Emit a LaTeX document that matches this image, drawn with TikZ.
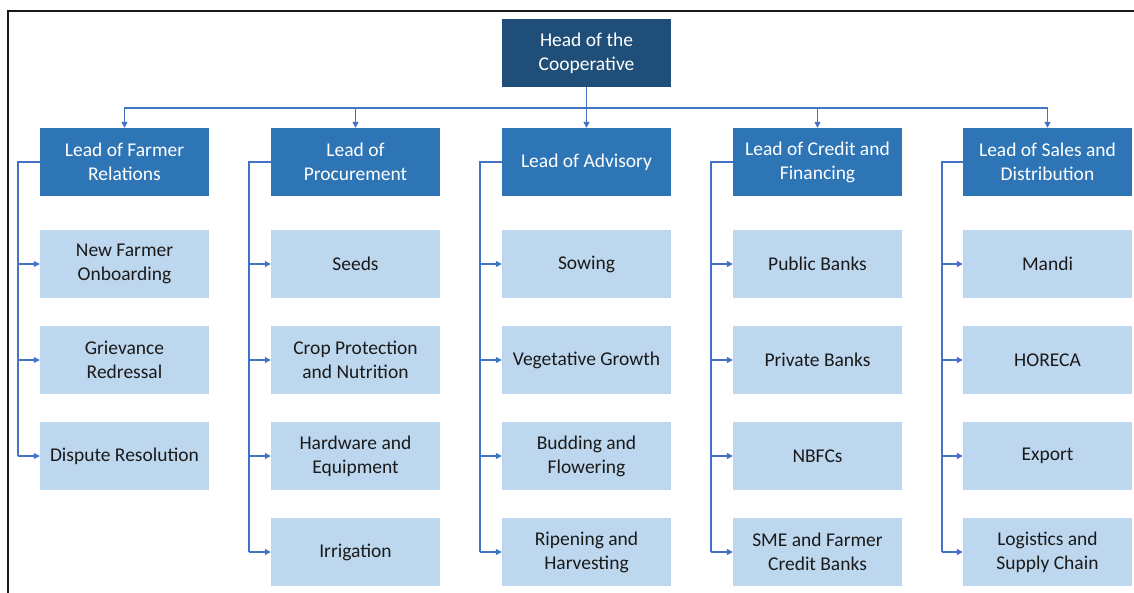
\documentclass[tikz,border=0pt]{standalone}
\usepackage{fontspec}
\setmainfont{Carlito}
\usetikzlibrary{arrows.meta}
\definecolor{headc}{HTML}{1F4E79}
\definecolor{leadc}{HTML}{2E75B6}
\definecolor{childc}{HTML}{BDD7EE}
\definecolor{linec}{HTML}{4472C4}
\definecolor{txtc}{HTML}{1A1A1A}
\begin{document}
\begin{tikzpicture}[x=1pt,y=-1pt,
  box/.style={minimum width=169pt,minimum height=68pt,inner sep=0pt,align=center,
    font=\fontsize{19.5}{24}\selectfont},
  headbox/.style={box,fill=headc,text=white},
  leadbox/.style={box,fill=leadc,text=white},
  childbox/.style={box,fill=childc,text=txtc},
  conn/.style={draw=linec,line width=1.2pt},
  arr/.style={conn,-{Triangle[length=6pt,width=6pt]}}]
\useasboundingbox (0,0) rectangle (1134,592);
\begin{scope}
\clip (0,0) rectangle (1134,592);
\draw[line width=2pt,draw=black!90] (8,11) rectangle (1150,610);
\end{scope}
\node[headbox] (head) at (586.5,53) {Head of the\\Cooperative};
\node[leadbox] (l1) at (124.5,162) {Lead of Farmer\\Relations};
\node[leadbox] (l2) at (355.5,162) {Lead of\\Procurement};
\node[leadbox] (l3) at (586.5,162) {Lead of Advisory};
\node[leadbox] (l4) at (817.5,162) {Lead of Credit and\\Financing};
\node[leadbox] (l5) at (1047.5,162) {Lead of Sales and\\Distribution};
% column 1
\node[childbox] (c11) at (124.5,264) {New Farmer\\Onboarding};
\node[childbox] (c12) at (124.5,360) {Grievance\\Redressal};
\node[childbox] (c13) at (124.5,456) {Dispute Resolution};
% column 2
\node[childbox] (c21) at (355.5,264) {Seeds};
\node[childbox] (c22) at (355.5,360) {Crop Protection\\and Nutrition};
\node[childbox] (c23) at (355.5,456) {Hardware and\\Equipment};
\node[childbox] (c24) at (355.5,552) {Irrigation};
% column 3
\node[childbox] (c31) at (586.5,264) {Sowing};
\node[childbox] (c32) at (586.5,360) {Vegetative Growth};
\node[childbox] (c33) at (586.5,456) {Budding and\\Flowering};
\node[childbox] (c34) at (586.5,552) {Ripening and\\Harvesting};
% column 4
\node[childbox] (c41) at (817.5,264) {Public Banks};
\node[childbox] (c42) at (817.5,360) {Private Banks};
\node[childbox] (c43) at (817.5,456) {NBFCs};
\node[childbox] (c44) at (817.5,552) {SME and Farmer\\Credit Banks};
% column 5
\node[childbox] (c51) at (1047.5,264) {Mandi};
\node[childbox] (c52) at (1047.5,360) {HORECA};
\node[childbox] (c53) at (1047.5,456) {Export};
\node[childbox] (c54) at (1047.5,552) {Logistics and\\Supply Chain};
% bus from head
\coordinate (bus) at (0,108);
\foreach \i in {1,...,5}{
  \draw[arr] (head.south) -- (head.south |- bus) -| (l\i.north);
}
% spines
\coordinate (s1) at (18,0);
\coordinate (s2) at (249,0);
\coordinate (s3) at (480,0);
\coordinate (s4) at (711,0);
\coordinate (s5) at (942,0);
\draw[conn] (l1.west) -- (l1.west -| s1) -- (c13.west -| s1);
\foreach \k in {1,2,3}{\draw[arr] (c1\k.west -| s1) -- (c1\k.west);}
\foreach \c in {2,3,4,5}{
  \draw[conn] (l\c.west) -- (l\c.west -| s\c) -- (c\c4.west -| s\c);
  \foreach \k in {1,2,3,4}{\draw[arr] (c\c\k.west -| s\c) -- (c\c\k.west);}
}
\end{tikzpicture}
\end{document}
